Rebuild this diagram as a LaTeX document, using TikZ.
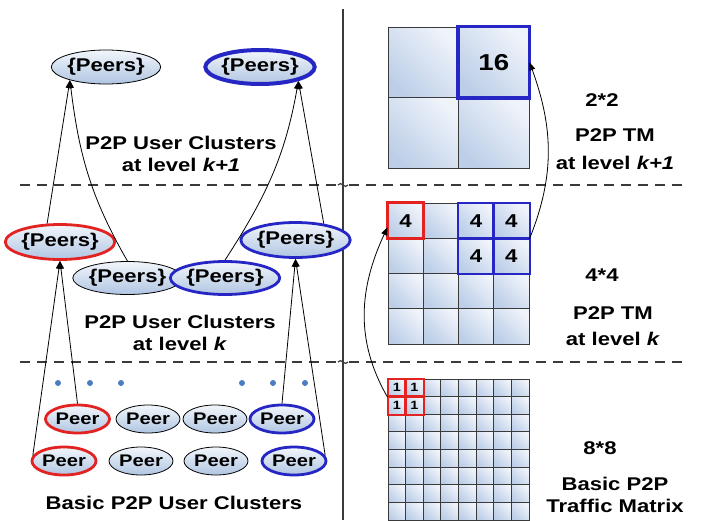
\documentclass[tikz,border=0pt]{standalone}
\usepackage{fontspec}
\newfontfamily\clusterfont[FakeStretch=1.2]{Liberation Sans}
\usetikzlibrary{shapes.geometric, arrows.meta}

\definecolor{peerred}{HTML}{E32222}
\definecolor{peerblue}{HTML}{2626C4}
\definecolor{peerlight}{HTML}{F2F6FB}
\definecolor{peerdark}{HTML}{B0C5E2}
\definecolor{celllight}{HTML}{EFF3FA}
\definecolor{celldark}{HTML}{BDCFE8}
\definecolor{dotblue}{HTML}{4A7CC0}
\definecolor{gridgray}{HTML}{3A3A3A}

\tikzset{
  txt/.style={font=\clusterfont\bfseries\fontsize{9.2}{11}\selectfont, align=center, inner sep=0pt},
  peers/.style={ellipse, draw=black, line width=0.4pt, top color=peerlight, bottom color=peerdark,
                inner sep=0pt, font=\clusterfont\bfseries\fontsize{9.2}{11}\selectfont},
  peer/.style={peers, minimum width=32pt, minimum height=14pt, font=\clusterfont\bfseries\fontsize{8.4}{10}\selectfont},
  redline/.style={draw=peerred, line width=1.4pt},
  blueline/.style={draw=peerblue, line width=1.4pt},
  cell/.style={rectangle, draw=gridgray, line width=0.5pt, top color=celllight, bottom color=celldark,
               shading angle=-45, inner sep=0pt, font=\clusterfont\bfseries},
  arr/.style={-{Triangle[length=4pt, width=3pt]}, line width=0.4pt},
  sep/.style={gridgray, line width=0.6pt, dash pattern=on 5pt off 3.5pt}
}

\begin{document}
\begin{tikzpicture}[x=0.5pt, y=-0.5pt]
  \useasboundingbox (0,0) rectangle (706,520);

  % Separators
  \draw[gridgray, line width=0.6pt] (343,9) -- (343,520);
  \draw[sep] (20,185) -- (337,185);
  \draw[sep] (349,185) -- (683,185);
  \draw[gridgray, line width=0.6pt] (338,185) .. controls (341,180) and (345,190) .. (348,185);
  \draw[sep] (20,362) -- (337,362);
  \draw[sep] (349,362) -- (683,362);
  \draw[gridgray, line width=0.6pt] (338,362) .. controls (341,357) and (345,367) .. (348,362);

  % User clusters at level k+1
  \node[peers, minimum width=51pt, minimum height=17pt] (tl) at (106,67) {\{Peers\}};
  \node[peers, minimum width=53.5pt, minimum height=17pt, draw=peerblue, line width=2pt] (tr) at (260,67) {\{Peers\}};
  \node[txt] (lk1) at (181,154) {P2P User Clusters\\at level \textit{k+1}};

  % User clusters at level k
  \node[peers, minimum width=46.5pt, minimum height=17.5pt, redline] (mr) at (60,242) {\{Peers\}};
  \node[peers, minimum width=46pt, minimum height=16.5pt] (mg) at (127.5,278) {\{Peers\}};
  \node[peers, minimum width=46.5pt, minimum height=16.5pt, blueline] (mb1) at (225,278) {\{Peers\}};
  \node[peers, minimum width=46pt, minimum height=17.5pt, blueline] (mb2) at (295.5,240) {\{Peers\}};
  \node[txt] (lk) at (180,333) {P2P User Clusters\\at level \textit{k}};

  % Basic user clusters
  \foreach \x in {58,90,121,242,273,305}
    \fill[dotblue] (\x,383) circle (3);
  \node[peer, redline] (p1a) at (77.5,419) {Peer};
  \node[peer] (p1b) at (148,419) {Peer};
  \node[peer] (p1c) at (215,419) {Peer};
  \node[peer, blueline] (p1d) at (282,419) {Peer};
  \node[peer, redline] (p2a) at (64,461) {Peer};
  \node[peer] (p2b) at (141,461) {Peer};
  \node[peer] (p2c) at (216,461) {Peer};
  \node[peer, blueline] (p2d) at (294,461) {Peer};
  \node[txt] (lb) at (174,503) {Basic P2P User Clusters};

  % Aggregation arrows
  \draw[arr] (mr.125) -- (tl.-160);
  \draw[arr] (mg.north) to[out=120, in=-83] (tl.-160);
  \draw[arr] (mb1.north) to[out=57, in=-100] (tr.-20);
  \draw[arr] (mb2.30) -- (tr.-20);
  \draw[arr] (p1a.north) -- (mr.south);
  \draw[arr] (p2a.170) -- (mr.south);
  \draw[arr] (p1d.north) -- (mb2.south);
  \draw[arr] (p2d.10) -- (mb2.south);

  % 2*2 TM
  \foreach \c in {0,1}
    \foreach \r in {0,1}
      \node[cell, minimum size=35.25pt] (two-\c-\r) at ({388+70.5*(\c+0.5)}, {27+70.5*(\r+0.5)}) {};
  \draw[peerblue, line width=1.8pt] (two-1-0.north west) rectangle (two-1-0.south east);
  \node[txt, font=\clusterfont\bfseries\fontsize{11.5}{13}\selectfont] at (two-1-0) {16};
  \node[txt] (s2) at (602,100) {2*2};
  \node[txt] (t2) at (615,149) {P2P TM\\[3pt]at level \textit{k+1}};

  % 4*4 TM
  \foreach \c in {0,...,3}
    \foreach \r in {0,...,3}
      \node[cell, minimum size=17.625pt] (four-\c-\r) at ({388+35.25*(\c+0.5)}, {203+35.25*(\r+0.5)}) {};
  \foreach \c/\r in {2/0,3/0,2/1,3/1}
    \draw[peerblue, line width=1pt] (four-\c-\r.north west) rectangle (four-\c-\r.south east);
  \draw[peerred, line width=1.5pt] (four-0-0.north west) rectangle (four-0-0.south east);
  \foreach \c/\r in {0/0,2/0,3/0,2/1,3/1}
    \node[txt, font=\clusterfont\bfseries\fontsize{9.3}{11}\selectfont] at (four-\c-\r) {4};
  \node[txt] (s4) at (602,275) {4*4};
  \node[txt] (t4) at (613,326.5) {P2P TM\\[2pt]at level \textit{k}};

  % 8*8 basic TM
  \foreach \c in {0,...,7}
    \foreach \r in {0,...,7}
      \node[cell, minimum size=8.8125pt] (eight-\c-\r) at ({388+17.625*(\c+0.5)}, {379+17.625*(\r+0.5)}) {};
  \foreach \c/\r in {0/0,1/0,0/1,1/1} {
    \draw[peerred, line width=1pt] (eight-\c-\r.north west) rectangle (eight-\c-\r.south east);
    \node[txt, font=\clusterfont\bfseries\fontsize{6}{7}\selectfont] at (eight-\c-\r) {1};
  }
  \node[txt] (s8) at (600,448) {8*8};
  \node[txt] (t8) at (615,494.5) {Basic P2P\\Traffic Matrix};

  % Aggregation between TMs
  \draw[arr] (eight-0-0.south west) to[out=120, in=-115] (four-0-0.-160);
  \draw[arr] (four-3-0.south east) to[out=68, in=-70] (two-1-0.east);
\end{tikzpicture}
\end{document}
